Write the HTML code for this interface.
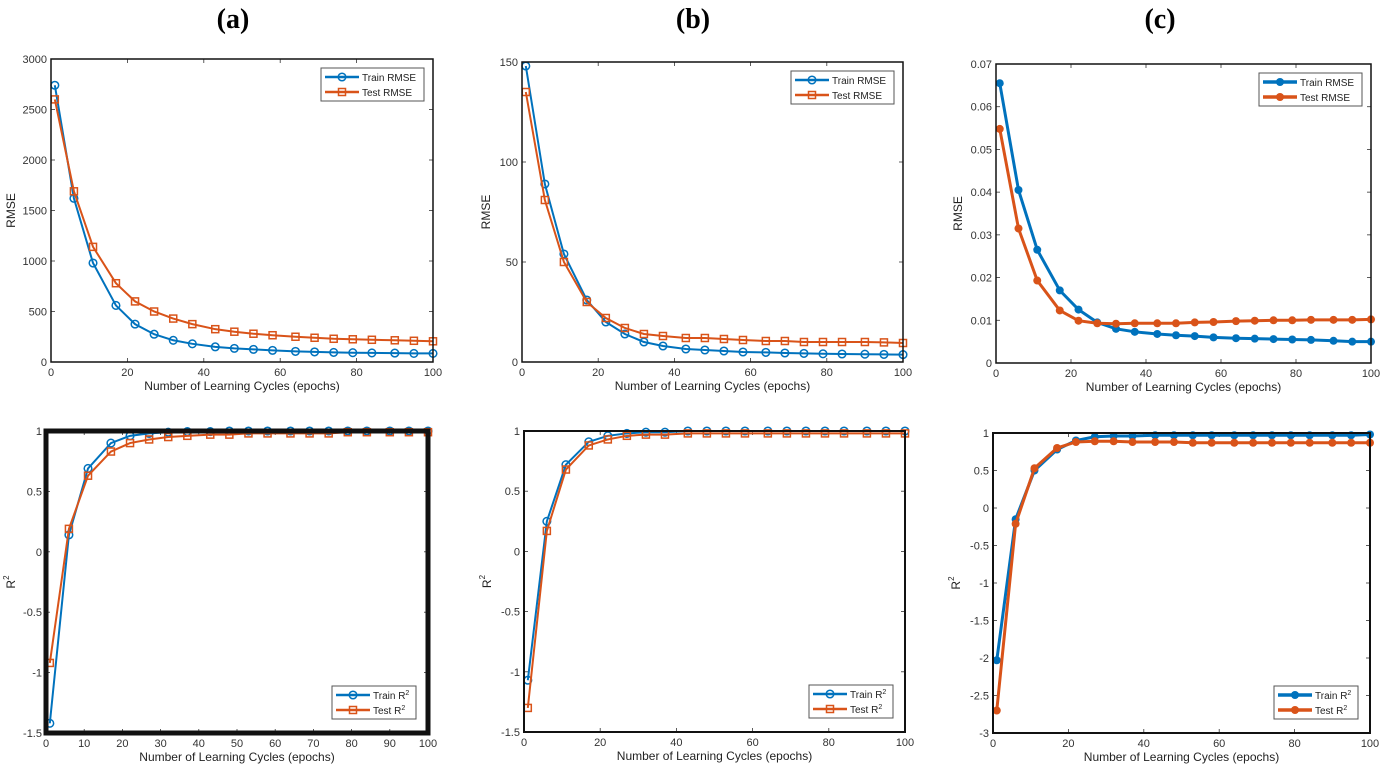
<!DOCTYPE html>
<html><head><meta charset="utf-8"><style>
body{margin:0;background:#fff;}
svg{display:block;font-family:"Liberation Sans",sans-serif;}
.t{font-family:"Liberation Serif",serif;font-weight:bold;font-size:28px;}
</style></head><body>
<svg id="fig" width="1382" height="771">
<text class="t" x="233" y="28" text-anchor="middle">(a)</text>
<text class="t" x="693" y="28" text-anchor="middle">(b)</text>
<text class="t" x="1160" y="28" text-anchor="middle">(c)</text>
</svg>
<script>
const epochs=[1,6,11,17,22,27,32,37,43,48,53,58,64,69,74,79,84,90,95,100];
const aTrainRmse=[2740,1620,980,560,375,275,215,180,150,135,125,115,105,100,95,92,90,88,85,85];
const aTestRmse=[2600,1690,1140,780,600,500,430,375,325,300,280,265,250,240,230,225,220,215,210,205];
const bTrainRmse=[148,89,54,31,20,14,10,8,6.5,6,5.5,5,4.8,4.5,4.3,4.1,4,3.9,3.8,3.7];
const bTestRmse=[135,81,50,30,22,17,14,13,12,12,11.5,11,10.5,10.5,10,10,10,10,9.8,9.5];
const cTrainRmse=[0.0655,0.0405,0.0265,0.017,0.0125,0.0095,0.008,0.0073,0.0068,0.0065,0.0063,0.006,0.0058,0.0057,0.0056,0.0055,0.0054,0.0052,0.005,0.005];
const cTestRmse=[0.0548,0.0315,0.0193,0.0123,0.0099,0.0093,0.0092,0.0093,0.0093,0.0093,0.0095,0.0096,0.0098,0.0099,0.01,0.01,0.0101,0.0101,0.0101,0.0102];
const aTrainR2=[-1.42,0.14,0.69,0.90,0.96,0.98,0.99,0.995,0.995,1,1,1,1,1,1,1,1,1,1,1];
const aTestR2=[-0.92,0.19,0.63,0.83,0.90,0.93,0.95,0.96,0.97,0.97,0.98,0.98,0.98,0.98,0.98,0.99,0.99,0.99,0.99,0.99];
const bTrainR2=[-1.07,0.25,0.72,0.91,0.96,0.98,0.99,0.99,1,1,1,1,1,1,1,1,1,1,1,1];
const bTestR2=[-1.30,0.17,0.68,0.88,0.93,0.96,0.97,0.97,0.98,0.98,0.98,0.98,0.98,0.98,0.98,0.98,0.98,0.98,0.98,0.98];
const cTrainR2=[-2.03,-0.15,0.50,0.78,0.90,0.95,0.96,0.96,0.97,0.97,0.97,0.97,0.97,0.97,0.97,0.97,0.97,0.97,0.97,0.98];
const cTestR2=[-2.70,-0.21,0.53,0.80,0.88,0.89,0.89,0.88,0.88,0.88,0.87,0.87,0.87,0.87,0.87,0.87,0.87,0.87,0.87,0.87];
const xTicks20=[0,20,40,60,80,100];
const xTicks10=[0,10,20,30,40,50,60,70,80,90,100];
const yTicksA=[0,500,1000,1500,2000,2500,3000];
const yTicksB=[0,50,100,150];
const yTicksC=[0,0.01,0.02,0.03,0.04,0.05,0.06,0.07];
const yTicksR2=[-1.5,-1,-0.5,0,0.5,1];
const yTicksR2c=[-3,-2.5,-2,-1.5,-1,-0.5,0,0.5,1];

const NS="http://www.w3.org/2000/svg";
const svg=document.getElementById('fig');
function el(tag,at,parent){const e=document.createElementNS(NS,tag);for(const k in at)e.setAttribute(k,at[k]);(parent||svg).appendChild(e);return e;}

const panels=[
{id:'a-rmse',x0:51,x1:433,y0:59,y1:362,ymin:0,ymax:3000,yt:yTicksA,xt:xTicks20,tr:aTrainRmse,te:aTestRmse,yl:'RMSE',ylx:12,bw:1.5,lg:'tr',nm:'RMSE',sty:'a'},
{id:'b-rmse',x0:522,x1:903,y0:62,y1:362,ymin:0,ymax:150,yt:yTicksB,xt:xTicks20,tr:bTrainRmse,te:bTestRmse,yl:'RMSE',ylx:487,bw:1.5,lg:'tr',nm:'RMSE',sty:'a'},
{id:'c-rmse',x0:996,x1:1371,y0:64,y1:363,ymin:0,ymax:0.07,yt:yTicksC,xt:xTicks20,tr:cTrainRmse,te:cTestRmse,yl:'RMSE',ylx:959,bw:1.5,lg:'tr',nm:'RMSE',sty:'c'},
{id:'a-r2',x0:46,x1:428,y0:431,y1:733,ymin:-1.5,ymax:1,yt:yTicksR2,xt:xTicks10,tr:aTrainR2,te:aTestR2,yl:'R2',ylx:12,bw:5,lg:'br',nm:'R2',sty:'a'},
{id:'b-r2',x0:524,x1:905,y0:431,y1:732,ymin:-1.5,ymax:1,yt:yTicksR2,xt:xTicks20,tr:bTrainR2,te:bTestR2,yl:'R2',ylx:488,bw:2,lg:'br',nm:'R2',sty:'a'},
{id:'c-r2',x0:993,x1:1370,y0:433,y1:733,ymin:-3,ymax:1,yt:yTicksR2c,xt:xTicks20,tr:cTrainR2,te:cTestR2,yl:'R2',ylx:957,bw:2,lg:'br',nm:'R2',sty:'c'}
];
const BLUE='#0072BD',RED='#D95319';
panels.forEach(p=>{
  const g=el('g',{});
  
  
  const sx=v=>p.x0+(v-0)/(100-0)*(p.x1-p.x0);
  const sy=v=>p.y1-(v-p.ymin)/(p.ymax-p.ymin)*(p.y1-p.y0);
  // ticks
  p.xt.forEach(v=>{
    el('line',{x1:sx(v),x2:sx(v),y1:p.y1,y2:p.y1-4,stroke:'#333','stroke-width':0.8},g);
    el('line',{x1:sx(v),x2:sx(v),y1:p.y0,y2:p.y0+4,stroke:'#333','stroke-width':0.8},g);
    const t=el('text',{x:sx(v),y:p.y1+14,'text-anchor':'middle','font-size':11,fill:'#333'},g);
    t.textContent=v;
    
    
  });
  p.yt.forEach(v=>{
    el('line',{x1:p.x0,x2:p.x0+4,y1:sy(v),y2:sy(v),stroke:'#333','stroke-width':0.8},g);
    el('line',{x1:p.x1,x2:p.x1-4,y1:sy(v),y2:sy(v),stroke:'#333','stroke-width':0.8},g);
    const t=el('text',{x:p.x0-4,y:sy(v)+4,'text-anchor':'end','font-size':11,fill:'#333'},g);
    t.textContent=String(v);
    
    
  });
  const xl=el('text',{x:(p.x0+p.x1)/2,y:p.y1+28,'text-anchor':'middle','font-size':12,fill:'#222'},g);
  xl.textContent='Number of Learning Cycles (epochs)';
  
  
  const ym=(p.y0+p.y1)/2;
  const yl=el('text',{x:p.ylx,y:ym,'text-anchor':'middle','font-size':12,fill:'#222',transform:'rotate(-90 '+(p.ylx)+' '+ym+')','dominant-baseline':'middle'},g);
  if(p.nm==='R2'){yl.innerHTML='R<tspan dy="-5" font-size="8">2</tspan>';}else yl.textContent='RMSE';
  
  
  // series
  const lw=p.sty==='c'?3:2;
  [[p.tr,BLUE,'train',false],[p.te,RED,'test',true]].forEach(([arr,col,nm,sq])=>{
    const pts=arr.map((v,i)=>sx(epochs[i])+','+sy(v)).join(' ');
    const pl=el('polyline',{points:pts,fill:'none',stroke:col,'stroke-width':lw},g);
    
    
    arr.forEach((v,i)=>{
      let m;
      if(p.sty==='c') m=el('circle',{cx:sx(epochs[i]),cy:sy(v),r:4,fill:col},g);
      else if(sq) m=el('rect',{x:sx(epochs[i])-3.5,y:sy(v)-3.5,width:7,height:7,fill:'none',stroke:col,'stroke-width':1.5},g);
      else m=el('circle',{cx:sx(epochs[i]),cy:sy(v),r:3.8,fill:'none',stroke:col,'stroke-width':1.5},g);
      
      
    });
  });
  const box=el('rect',{x:p.x0,y:p.y0,width:p.x1-p.x0,height:p.y1-p.y0,fill:'none',stroke:'#111','stroke-width':p.bw},g);
  
  
  // legend
  const lw2=p.nm==='R2'?84:103, lh=33;
  const lx=p.lg==='tr'?p.x1-lw2-9:p.x1-lw2-12;
  const ly=p.lg==='tr'?p.y0+9:p.y1-lh-14;
  const lg=el('g',{},g);
  
  
  el('rect',{x:lx,y:ly,width:lw2,height:lh,fill:'#fff',stroke:'#555','stroke-width':1},lg);
  [['Train',BLUE,false],['Test',RED,true]].forEach(([nm,col,sq],k)=>{
    const yy=ly+9+k*15;
    el('line',{x1:lx+4,x2:lx+38,y1:yy,y2:yy,stroke:col,'stroke-width':lw+0.5},lg);
    if(p.sty==='c') el('circle',{cx:lx+21,cy:yy,r:4,fill:col},lg);
    else if(sq) el('rect',{x:lx+17.5,y:yy-3.5,width:7,height:7,fill:'none',stroke:col,'stroke-width':1.5},lg);
    else el('circle',{cx:lx+21,cy:yy,r:3.8,fill:'none',stroke:col,'stroke-width':1.5},lg);
    const t=el('text',{x:lx+41,y:yy+4,'font-size':10,fill:'#222'},lg);
    if(p.nm==='R2') t.innerHTML=nm+' R<tspan dy="-4" font-size="7">2</tspan>'; else t.textContent=nm+' RMSE';
    
    
  });
});
</script>
</body></html>
